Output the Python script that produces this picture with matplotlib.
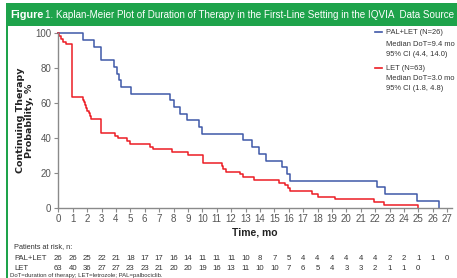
import numpy as np
import matplotlib.pyplot as plt
import matplotlib.transforms as mtransforms
from matplotlib.patches import Rectangle

plt.rcParams['font.family'] = ['Liberation Sans', 'DejaVu Sans']

# PAL+LET (N=26): event times (mo) and survival after each step (%)
pal_times = [0, 1.69, 2.5, 2.94, 3.89, 4.05, 4.2, 4.33, 5.05, 7.75, 8.0, 8.45, 8.96,
             9.75, 9.98, 12.8, 13.47, 13.9, 14.4, 15.56, 15.86, 16.1, 22.1, 22.7,
             24.9, 26.4]
pal_surv = [100, 96.2, 92.3, 84.6, 80.8, 76.9, 73.1, 69.2, 65.4, 61.5, 57.7, 53.8, 50.0,
            46.2, 42.3, 38.5, 34.6, 30.8, 26.9, 23.1, 19.2, 15.4, 11.5, 7.7,
            3.8, 0]

# LET (N=63)
let_times = [0, 0.07, 0.18, 0.35, 0.5, 0.97, 1.69, 1.8, 1.88, 1.92, 2.0, 2.1, 2.2, 2.27,
             2.94, 3.94, 4.17, 4.8, 4.97, 6.37, 6.55, 7.87, 9.03, 10.07, 11.35, 11.45,
             11.65, 12.6, 12.85, 13.6, 15.3, 15.74, 15.93, 16.1, 17.6, 18.05, 19.2,
             21.9, 22.6, 25.0]
let_surv = [100, 98.4, 96.8, 95.2, 93.7, 63.5, 61.9, 60.3, 58.7, 57.1, 55.6, 54.0, 52.4, 50.8,
            42.9, 41.3, 39.7, 38.1, 36.5, 34.9, 33.3, 31.7, 30.2, 25.4, 23.8, 22.2,
            20.6, 19.0, 17.5, 15.9, 14.3, 12.7, 11.1, 9.5, 7.9, 6.3, 4.8,
            3.2, 1.6, 0]

months = list(range(0, 28))
risk_pal = [26, 26, 25, 22, 21, 18, 17, 17, 16, 14, 11, 11, 11, 10, 8, 7, 5, 4, 4, 4,
            4, 4, 4, 2, 2, 1, 1, 0]
risk_let = [63, 40, 36, 27, 27, 23, 23, 21, 20, 20, 19, 16, 13, 11, 10, 10, 7, 6, 5, 4,
            3, 3, 2, 1, 1, 0]

green = '#1ea34b'
blue = '#3f58a8'
red = '#ec1c24'
grey = '#555555'
dark = '#333333'

fig = plt.figure(figsize=(4.57, 2.78), dpi=100)
W, H = 457, 278

# header band and frame
fig.add_artist(Rectangle((7 / W, 1 - 26 / H), 1, 23 / H, transform=fig.transFigure,
                         color=green, lw=0))
fig.add_artist(Rectangle((6 / W, 0), 2 / W, 1 - 3 / H, transform=fig.transFigure,
                         color=green, lw=0))
t1 = fig.text(10 / W, 1 - 15 / H, 'Figure', color='white', fontsize=7.8, fontweight='bold',
              va='center')
r = fig.canvas.get_renderer()
bb = t1.get_window_extent(r)
fig.text(bb.x1 / W + 2 / W, 1 - 15 / H,
         '1. Kaplan-Meier Plot of Duration of Therapy in the First-Line Setting in the IQVIA  Data Source',
         color='white', fontsize=7.1, va='center')

x0, x1 = 58.3, 451.5
ytop, ybot = 33.3, 207.5
ax = fig.add_axes([x0 / W, 1 - ybot / H, (x1 - x0) / W, (ybot - ytop) / H])

ax.step(pal_times + [26.4], pal_surv + [0], where='post', color=blue, lw=1.1,
        clip_on=False)
ax.step(let_times, let_surv, where='post', color=red, lw=1.1, clip_on=False)

ax.set_xlim(0, 27.3)
ax.set_ylim(0, 100)
ax.set_xticks(months)
ax.set_yticks([0, 20, 40, 60, 80, 100])
for s in ['top', 'right']:
    ax.spines[s].set_visible(False)
for s in ['left', 'bottom']:
    ax.spines[s].set_color('#8a8a8a')
    ax.spines[s].set_linewidth(1.0)
ax.tick_params(colors='#8a8a8a', labelcolor=grey, labelsize=7, length=3, width=0.8,
               pad=2)
ax.set_xlabel('Time, mo', fontsize=7.5, fontweight='bold', color='#222222', labelpad=2)
ax.set_ylabel('Continuing Therapy\nProbability, %', fontsize=6.8, fontweight='bold',
              color='#222222', labelpad=1, family='DejaVu Sans', linespacing=1.0)

# legend
lx = 375 / W
fig.add_artist(plt.Line2D([lx, lx + 7 / W], [1 - 32 / H, 1 - 32 / H], color=blue, lw=1.2,
                          transform=fig.transFigure))
fig.add_artist(plt.Line2D([lx, lx + 7 / W], [1 - 68 / H, 1 - 68 / H], color=red, lw=1.2,
                          transform=fig.transFigure))
leg_lines = [(32, 'PAL+LET (N=26)'), (44, 'Median DoT=9.4 mo'), (55, '95% CI (4.4, 14.0)'),
             (68, 'LET (N=63)'), (78, 'Median DoT=3.0 mo'), (89, '95% CI (1.8, 4.8)')]
for yy, t in leg_lines:
    fig.text(386 / W, 1 - yy / H, t, fontsize=5.4, color=dark, va='center')

# at-risk table
trans = mtransforms.blended_transform_factory(ax.transData, fig.transFigure)
fig.text(14 / W, 1 - 247 / H, 'Patients at risk, n:', fontsize=5.3, color=dark,
         va='center')
fig.text(14 / W, 1 - 259 / H, 'PAL+LET', fontsize=5.6, color=dark, va='center')
fig.text(14 / W, 1 - 268 / H, 'LET', fontsize=5.6, color=dark, va='center')
for m, n in zip(months, risk_pal):
    ax.text(m, 1 - 259 / H, str(n), transform=trans, fontsize=5.6, color=dark,
            ha='center', va='center')
for m, n in zip(months, risk_let):
    ax.text(m, 1 - 268 / H, str(n), transform=trans, fontsize=5.6, color=dark,
            ha='center', va='center')
fig.text(10 / W, 1 - 276 / H, 'DoT=duration of therapy; LET=letrozole; PAL=palbociclib.',
         fontsize=4.3, color=dark, va='center')

fig.savefig('out.png', dpi=100)
